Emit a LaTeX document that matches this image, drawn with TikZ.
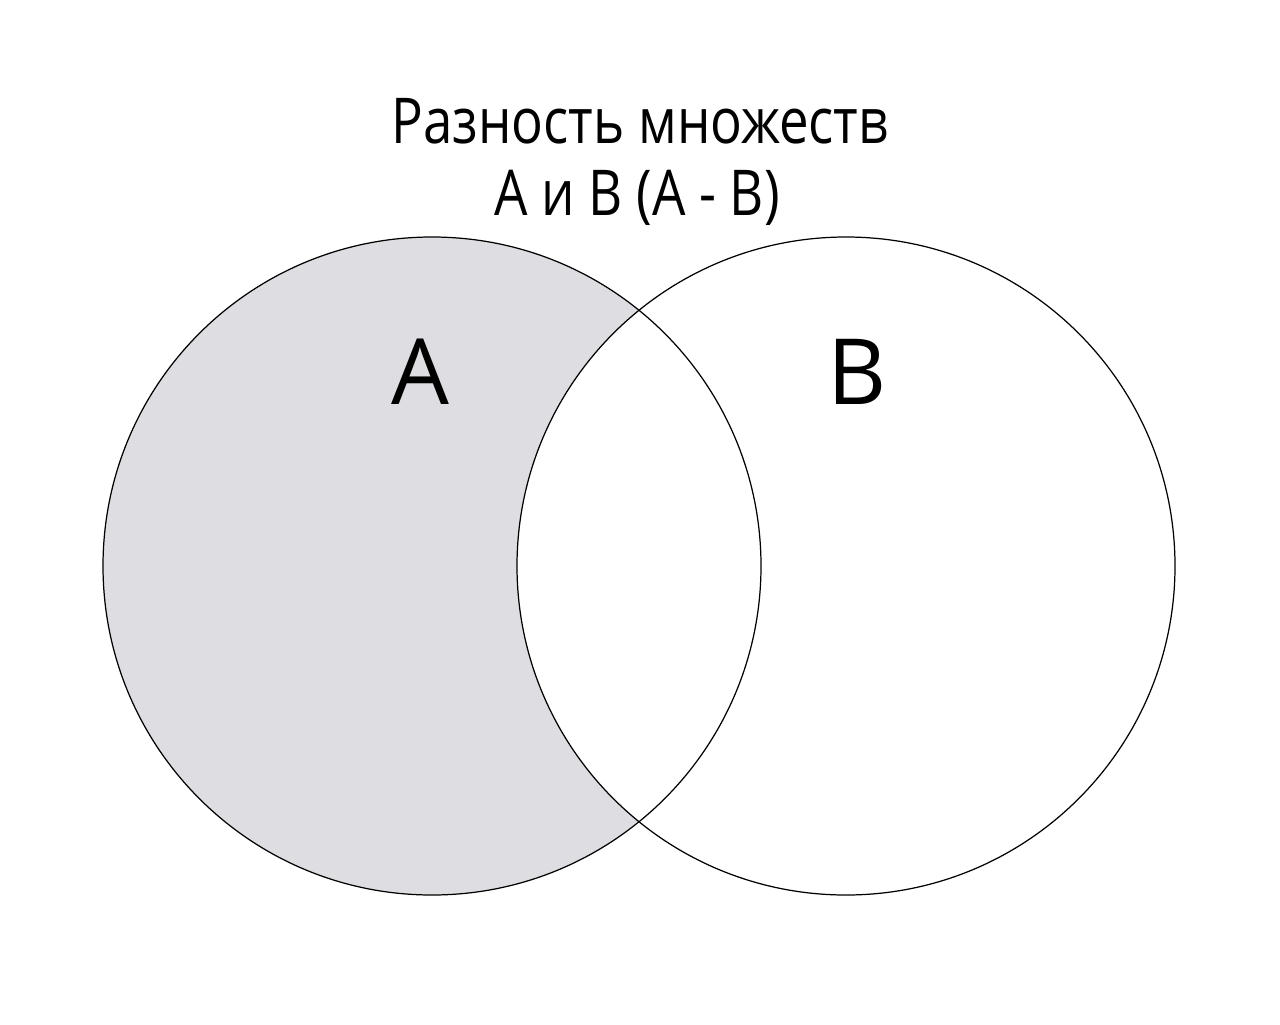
\documentclass[tikz,border=0pt]{standalone}
\usepackage{fontspec}
\setmainfont{Open Sans}
\newfontfamily\titlefont{Open Sans}[FakeStretch=0.835]
\definecolor{areagray}{HTML}{DEDEE2}
\begin{document}
\begin{tikzpicture}[x=0.02cm,y=-0.02cm,
  ring/.style={draw=black,line width=0.7pt},
  title/.style={anchor=base,inner sep=0pt,font=\titlefont\fontsize{36}{40}\selectfont},
  setlabel/.style={anchor=base,inner sep=0pt,font=\fontsize{52}{60}\selectfont}]
\useasboundingbox[fill=white] (0,0) rectangle (1280,1024);
\coordinate (ca) at (432,566);
\coordinate (cb) at (846,566);
\fill[areagray] (ca) circle[radius=329];
\fill[white] (cb) circle[radius=329];
\draw[ring] (ca) circle[radius=329];
\draw[ring] (cb) circle[radius=329];
\node[title] (t1) at (640,143) {Разность множеств};
\node[title] (t2) at (637,215) {A и B (A - B)};
\node[setlabel] (la) at (420,404) {A};
\node[setlabel] (lb) at (857,404) {B};
\end{tikzpicture}
\end{document}
